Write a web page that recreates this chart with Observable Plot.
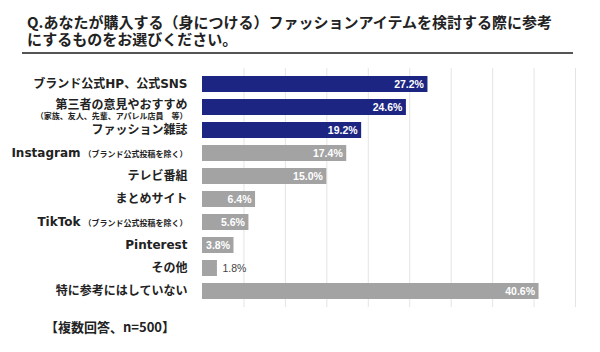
<!DOCTYPE html>
<html>
<head>
<meta charset="utf-8">
<script src="https://cdn.jsdelivr.net/npm/d3@7"></script>
<script src="https://cdn.jsdelivr.net/npm/@observablehq/plot@0.6"></script>
<style>
  html, body { margin: 0; padding: 0; background: #fff; }
  body { width: 600px; height: 352px; overflow: hidden; font-family: "Noto Sans CJK JP", "Noto Sans", sans-serif; color: #222; }
  #title { padding: 13px 0 0 27px; font-size: 15px; font-weight: bold; line-height: 17px; }
  #rule { margin: 5px 27px 0 22px; border-top: 2px solid #555; height: 0; }
  #chart { margin-top: 6px; height: 252px; }
  #footer { padding: 7px 0 0 45px; font-size: 13px; font-weight: bold; line-height: 16px; color: #222; }
</style>
</head>
<body>
<div id="title">Q.あなたが購入する（身につける）ファッションアイテムを検討する際に参考<br>にするものをお選びください。</div>
<div id="rule"></div>
<div id="chart"></div>
<div id="footer">【複数回答、n=500】</div>
<script>
const categories = [
  "ブランド公式HP、公式SNS",
  "第三者の意見やおすすめ",
  "ファッション雑誌",
  "Instagram",
  "テレビ番組",
  "まとめサイト",
  "TikTok",
  "Pinterest",
  "その他",
  "特に参考にはしていない"
];
const subLabels = ["", "（家族、友人、先輩、アパレル店員　等）", "", "（ブランド公式投稿を除く）", "", "", "（ブランド公式投稿を除く）", "", "", ""];
const subBelow = [false, true, false, false, false, false, false, false, false, false];
const values = [27.2, 24.6, 19.2, 17.4, 15.0, 6.4, 5.6, 3.8, 1.8, 40.6];
const groups = ["hi", "hi", "hi", "lo", "lo", "lo", "lo", "lo", "lo", "lo"];
const gridTicks = [5, 10, 15, 20, 25, 30, 35, 40, 45];

const NAVY = "#1c2582";
const GRAY = "#a3a3a3";

const data = categories.map((c, i) => ({ label: c, value: values[i], group: groups[i] }));
const inside = data.filter(d => d.value >= 3);
const outside = data.filter(d => d.value < 3);
const numFont = "'Liberation Sans', Arial, sans-serif";
const labelFont = "'DejaVu Sans', 'Noto Sans CJK JP', sans-serif";

const chart = Plot.plot({
  width: 600,
  height: 252,
  marginLeft: 202,
  marginRight: 25,
  marginTop: 8,
  marginBottom: 5,
  style: { fontFamily: "'Noto Sans CJK JP', sans-serif", background: "#fff" },
  x: { domain: [0, 45], axis: null },
  y: { domain: categories, padding: 0.3, axis: null },
  color: { domain: ["hi", "lo"], range: [NAVY, GRAY] },
  marks: [
    Plot.ruleX(gridTicks, { stroke: "#e4e4e4", strokeWidth: 1 }),
    Plot.barX(data, { y: "label", x: "value", fill: "group" }),
    Plot.text(inside, {
      y: "label", x: "value", text: d => d.value.toFixed(1) + "%",
      textAnchor: "end", dx: -4, fill: "white", fontWeight: "bold",
      fontSize: 10.5, fontFamily: numFont
    }),
    Plot.text(outside, {
      y: "label", x: "value", text: d => d.value.toFixed(1) + "%",
      textAnchor: "start", dx: 5, fill: "#444",
      fontSize: 10.5, fontFamily: numFont
    }),
    Plot.axisY({
      tickSize: 0, tickPadding: 15, fontSize: 12, fontWeight: "bold",
      fontFamily: labelFont, fill: "#222", label: null
    })
  ]
});

// add secondary (small) label parts as tspans
const ns = "http://www.w3.org/2000/svg";
chart.querySelectorAll("text").forEach(t => {
  const idx = categories.indexOf(t.textContent);
  if (idx < 0 || !subLabels[idx]) return;
  const main = t.textContent;
  const xAttr = t.getAttribute("x") || "0";
  t.textContent = "";
  const m = document.createElementNS(ns, "tspan");
  m.textContent = main;
  t.appendChild(m);
  const s = document.createElementNS(ns, "tspan");
  s.textContent = subLabels[idx];
  s.setAttribute("font-size", "8");
  s.setAttribute("font-family", "'Noto Sans CJK JP', sans-serif");
  if (subBelow[idx]) {
    m.setAttribute("dy", "-2.5");
    s.setAttribute("x", xAttr);
    s.setAttribute("dy", "10.5");
  } else {
    s.setAttribute("dx", "3");
  }
  t.appendChild(s);
});

document.getElementById("chart").appendChild(chart);
</script>
</body>
</html>
